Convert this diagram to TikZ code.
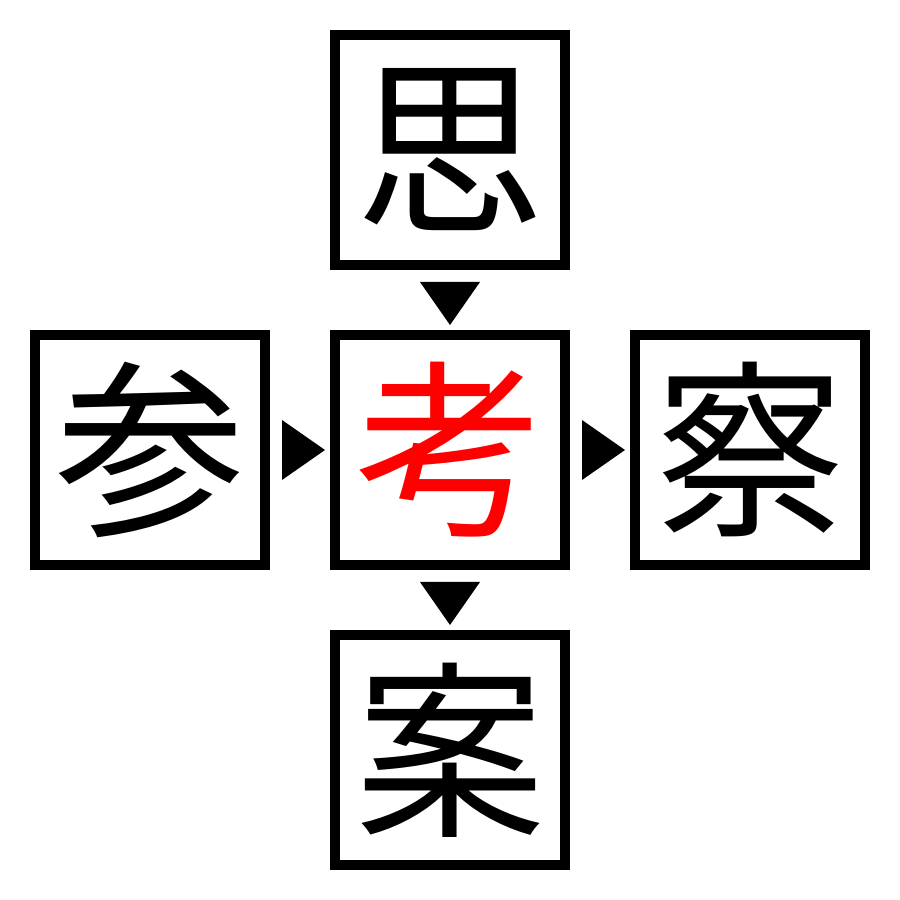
\documentclass[tikz,border=0pt]{standalone}
\usepackage{fontspec}
\newfontfamily\cjk{Noto Sans CJK JP}
\usepackage{tikz}
\usetikzlibrary{arrows.meta}
\usetikzlibrary{positioning}
\tikzset{kanji/.style={draw, line width=0.2cm, minimum size=4.6cm, inner sep=0pt,
                       font=\cjk\fontsize{108}{108}\selectfont}}
\tikzset{flow/.style={-{Triangle[length=0.86cm,width=1.2cm,color=black]}, draw=white,
                      line width=0pt, shorten <=0.24cm, shorten >=0.1cm}}

\begin{document}
\begin{tikzpicture}[node distance=1.2cm]
   \useasboundingbox (0,0) rectangle (18,18);
   \node[kanji] (K0) at (9,9) {\textcolor{red}{考}};
   \node[kanji] (K1) [above=of K0] {思};
   \node[kanji] (K2) [left=of K0]  {参};
   \node[kanji] (K3) [right=of K0] {察};
   \node[kanji] (K4) [below=of K0] {案};

   % triangles between the boxes
   \draw[flow] (K1) -- (K0);
   \draw[flow] (K2) -- (K0);
   \draw[flow] (K0) -- (K3);
   \draw[flow] (K0) -- (K4);
\end{tikzpicture}
\end{document}
